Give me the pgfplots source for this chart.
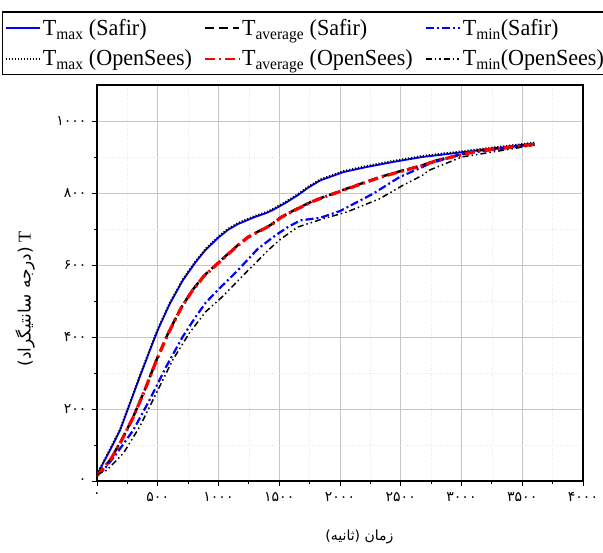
\documentclass[border=0pt]{standalone}
\usepackage{fontspec}
\setmainfont{Liberation Serif}
\newfontfamily\legfont[FakeStretch=0.96]{Liberation Serif}
\newfontfamily\arabicfont[Script=Arabic]{DejaVu Sans}
\TeXXeTstate=1
\usepackage{pgfplots}
\pgfplotsset{compat=1.18}
\pgfplotstableread{
x y
0 18
14 26
108 86
190 141
271 215
352 289
433 361
504 422
596 490
704 556
812 608
894 642
999 676
1080 698
1162 714
1297 733
1400 745
1460 755
1550 772
1649 793
1740 815
1838 835
2028 858
2218 872
2435 886
2678 900
3003 913
3300 925
3599 938
}\tmaxS
\pgfplotstableread{
x y
0 19
14 28
108 89
190 144
271 218
352 292
433 364
504 425
596 493
704 559
812 611
894 645
999 679
1080 701
1162 717
1297 736
1400 748
1460 758
1550 775
1649 796
1740 818
1838 838
2028 861
2218 875
2435 889
2678 903
3003 916
3300 928
3599 940
}\tmaxO
\pgfplotstableread{
x y
0 16
14 21
108 58
203 114
298 178
392 252
487 334
582 408
690 480
785 530
880 570
1026 615
1162 656
1243 678
1433 712
1514 733
1650 757
1785 779
2055 812
2326 844
2489 860
2678 877
2786 890
3138 918
3600 936
}\tavgS
\pgfplotstableread{
x y
0 15
14 20
108 57
203 113
298 177
392 251
487 333
582 407
690 479
785 529
880 569
1026 614
1162 655
1243 677
1433 711
1514 732
1650 756
1785 778
2055 811
2326 843
2489 859
2678 876
2786 889
3138 917
3600 935
}\tavgO
\pgfplotstableread{
x y
0 18
54 30
163 77
298 141
433 225
569 317
704 400
812 456
894 495
999 532
1150 582
1324 645
1460 680
1569 705
1675 724
1837 731
2001 750
2272 798
2489 844
2678 872
2732 881
3003 909
3600 934
}\tminS
\pgfplotstableread{
x y
0 18
81 30
217 77
352 151
487 243
623 336
758 410
894 470
1026 510
1122 543
1243 585
1301 604
1405 640
1512 672
1649 705
1866 729
2055 747
2326 784
2516 821
2678 849
2732 863
3003 900
3600 933
}\tminO
\begin{document}
\begin{tikzpicture}
\begin{axis}[
  name=ax,
  scale only axis, width=486pt, height=396pt,
  xmin=0, xmax=4000, ymin=0, ymax=1100,
  xtick={0,500,...,4000},
  xticklabels={۰,۵۰۰,۱۰۰۰,۱۵۰۰,۲۰۰۰,۲۵۰۰,۳۰۰۰,۳۵۰۰,۴۰۰۰},
  ytick={0,200,...,1000},
  yticklabels={۰,۲۰۰,۴۰۰,۶۰۰,۸۰۰,۱۰۰۰},
  minor x tick num=1, minor y tick num=1,
  tick align=outside, xtick pos=bottom, ytick pos=left,
  major tick length=5pt, minor tick length=3pt,
  tick style={black, line width=0.8pt},
  axis line style={line width=1.2pt},
  grid=both,
  major grid style={gray!45, line width=0.7pt},
  minor grid style={gray!18, line width=0.5pt, dotted},
  ticklabel style={font=\arabicfont\fontsize{14}{16}\selectfont},
  xticklabel style={yshift=-3pt},
  yticklabel style={xshift=-2pt},
  xlabel={\arabicfont\fontsize{14}{17}\selectfont\beginR زمان (ثانیه)\endR},
  ylabel={\fontsize{18}{20}\selectfont\beginR T \arabicfont\fontsize{17}{20}\selectfont(درجه سانتیگراد)\endR},
  xlabel style={at={(axis description cs:0.54,-0.141)}, anchor=center},
  ylabel style={at={(axis description cs:-0.148,0.46)}, anchor=center},
  legend columns=3,
  legend cell align=left,
  legend style={at={(-0.1955,1.025)}, anchor=south west,
    font=\legfont\fontsize{23}{25}\selectfont, draw=black, line width=1.5pt,
    inner xsep=2pt, inner ysep=5pt, row sep=9pt,
    /tikz/every even column/.append style={column sep=10pt}},
  legend image code/.code={\draw[#1, line width=2pt] (0cm,0cm) -- (1.2cm,0cm);},
]
\addplot[blue, line width=1.8pt] table {\tmaxS};
\addlegendentry{T\textsubscript{max} (Safir)}
\addplot[black, line width=2.5pt, dash pattern=on 9pt off 5pt] table {\tavgS};
\addlegendentry{T\textsubscript{average} (Safir)}
\addplot[blue, line width=2.2pt, dash pattern=on 8pt off 3pt on 2pt off 3pt] table {\tminS};
\addlegendentry{T\textsubscript{min}(Safir)}
\addplot[black, line width=1.8pt, dash pattern=on 1.2pt off 1.8pt] table {\tmaxO};
\addlegendentry{T\textsubscript{max} (OpenSees)}
\addplot[red, line width=3.2pt, dash pattern=on 10pt off 4pt on 2pt off 4pt] table {\tavgO};
\addlegendentry{T\textsubscript{average} (OpenSees)}
\addplot[black, line width=1.5pt, dash pattern=on 6pt off 3pt on 1.5pt off 3pt on 1.5pt off 3pt] table {\tminO};
\addlegendentry{T\textsubscript{min}(OpenSees)}
\end{axis}
\pgfresetboundingbox
\path ([xshift=-97pt,yshift=-72pt]ax.south west) rectangle ([xshift=20pt,yshift=85pt]ax.north east);
\end{tikzpicture}
\end{document}
